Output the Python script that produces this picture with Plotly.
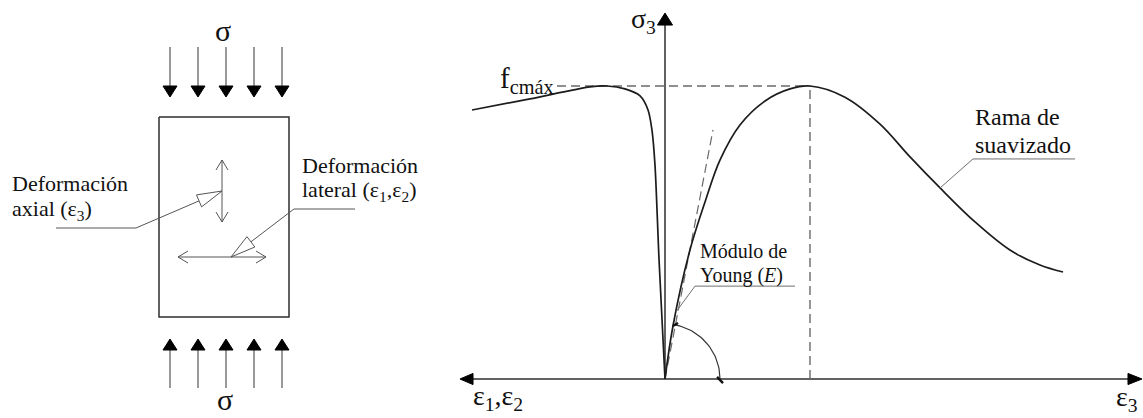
import numpy as np
import plotly.graph_objects as go

# ---------------- stress-strain diagram data (normalised units) ----------------
# strain normalised by strain at peak, stress normalised by f_cmax
axial_strain = [0.0, 0.055, 0.172, 0.276, 0.379, 0.517, 0.690, 0.862, 1.0,
                1.241, 1.483, 1.690, 1.897, 2.138, 2.379, 2.586, 2.745]
axial_stress = [0.0, 0.181, 0.440, 0.604, 0.747, 0.867, 0.949, 0.990, 1.0,
                0.962, 0.870, 0.758, 0.652, 0.536, 0.440, 0.389, 0.365]
lateral_strain = [0.0, -0.041, -0.069, -0.090, -0.117, -0.172, -0.276, -0.400, -0.517, -0.931, -1.331]
lateral_stress = [0.0, 0.406, 0.730, 0.850, 0.918, 0.966, 0.990, 1.0, 0.997, 0.956, 0.918]
young_tangent_strain = [0.0, 0.331]
young_tangent_stress = [0.0, 0.850]
peak_strain = 1.0
peak_stress = 1.0
fc_line_start = -0.745

# axis extents (normalised units)
x2_range = [-4.5862, 3.2966]
y2_range = [-0.1331, 1.2935]
h_axis = [-1.324, 3.193]
v_axis = [0.0, 1.208]

# leader lines
young_leader_x = [0.897, 0.207, 0.076]
young_leader_y = [0.317, 0.317, 0.229]
rama_leader_x = [2.828, 2.124, 1.897]
rama_leader_y = [0.751, 0.751, 0.652]

# angle marker
arc_radius_px = 55
arc_angles_deg = [0, 81]

# ---------------- specimen (left) geometry, pixel units ----------------
box = [159, 117, 289, 317]
load_x = [170, 198, 226, 254, 282]
top_load = [47, 97]      # tail, tip
bottom_load = [388, 339]

CURVE = "#1c1c1c"
AXIS = "#2e2e2e"
LEAD = "#6f6f6f"
DASH = "#6a6a6a"
FONT = "Liberation Serif"

fig = go.Figure()

def line(xs, ys, color, width, axes=("x", "y"), dash=None, shape="linear", smoothing=1.0, fill=None, fillcolor=None):
    fig.add_trace(go.Scatter(
        x=xs, y=ys, mode="lines", xaxis=axes[0], yaxis=axes[1],
        line=dict(color=color, width=width, dash=dash, shape=shape,
                  smoothing=smoothing if shape == "spline" else None),
        fill=fill, fillcolor=fillcolor, hoverinfo="skip", showlegend=False))

# ---------- left: specimen ----------
bx0, by0, bx1, by1 = box
line([bx0, bx1, bx1, bx0, bx0], [by0, by0, by1, by1, by0], AXIS, 1.5)

for lx in load_x:
    # top loads (pointing down)
    line([lx, lx], [top_load[0], top_load[1] - 10], "#555", 1.2)
    line([lx - 7, lx + 7, lx, lx - 7], [top_load[1] - 11, top_load[1] - 11, top_load[1], top_load[1] - 11],
         "black", 1, fill="toself", fillcolor="black")
    # bottom loads (pointing up)
    line([lx, lx], [bottom_load[0], bottom_load[1] + 10], "#555", 1.2)
    line([lx - 7, lx + 7, lx, lx - 7], [bottom_load[1] + 11, bottom_load[1] + 11, bottom_load[1], bottom_load[1] + 11],
         "black", 1, fill="toself", fillcolor="black")

# inner double arrows
vx, vy0, vy1 = 222, 160, 222
line([vx, vx], [vy0, vy1], "#555", 1)
line([vx - 6, vx, vx + 6], [vy0 + 10, vy0, vy0 + 10], "#555", 1)
line([vx - 6, vx, vx + 6], [vy1 - 10, vy1, vy1 - 10], "#555", 1)
hy, hx0, hx1 = 257, 178, 266
line([hx0, hx1], [hy, hy], "#555", 1)
line([hx0 + 10, hx0, hx0 + 10], [hy - 6, hy, hy + 6], "#555", 1)
line([hx1 - 10, hx1, hx1 - 10], [hy - 6, hy, hy + 6], "#555", 1)

def open_head(tip, tail, length=25, half=6.5):
    tx, ty = tip
    dx, dy = tx - tail[0], ty - tail[1]
    n = np.hypot(dx, dy)
    ux, uy = dx / n, dy / n
    bxc, byc = tx - ux * length, ty - uy * length
    px, py = -uy * half, ux * half
    line([tx, bxc + px, bxc - px, tx], [ty, byc + py, byc - py, ty], "#555", 1,
         fill="toself", fillcolor="white")

# leader axial
line([56, 136, 222], [228, 228, 191], "#555", 1)
open_head((222, 191), (136, 228))
# leader lateral
line([355, 294, 231], [209, 209, 257], "#555", 1)
open_head((231, 257), (294, 209))

# ---------- right: stress-strain ----------
R = ("x2", "y2")
# axes
line(h_axis, [0, 0], AXIS, 1.5, R)
line([0, 0], v_axis, AXIS, 1.5, R)
line([3.290, 3.193, 3.193, 3.290], [0, 0.019, -0.019, 0], "black", 1, R, fill="toself", fillcolor="black")
line([-1.414, -1.324, -1.324, -1.414], [0, 0.019, -0.019, 0], "black", 1, R, fill="toself", fillcolor="black")
line([0, -0.052, 0.052, 0], [1.249, 1.208, 1.208, 1.249], "black", 1, R, fill="toself", fillcolor="black")

# dashed reference lines
line([fc_line_start, peak_strain], [peak_stress, peak_stress], DASH, 1.4, R, dash="9px,5px")
line([peak_strain, peak_strain], [0, peak_stress], DASH, 1.4, R, dash="9px,5px")
line(young_tangent_strain, young_tangent_stress, DASH, 1.2, R, dash="9px,5px")

# curves
line(axial_strain, axial_stress, CURVE, 1.7, R, shape="spline", smoothing=1.0)
line(lateral_strain, lateral_stress, CURVE, 1.7, R, shape="spline", smoothing=0.8)

# leaders
line(young_leader_x, young_leader_y, LEAD, 1, R)
line(rama_leader_x, rama_leader_y, LEAD, 1, R)

# angle arc
th = np.radians(np.linspace(arc_angles_deg[0], arc_angles_deg[1], 40))
line(arc_radius_px * np.cos(th) / 145, arc_radius_px * np.sin(th) / 293, "#333", 1.2, R)
line([0.054, 0.090], [0.181, 0.191], "#111", 2.4, R)
line([0.359, 0.400], [0.007, -0.014], "#111", 2.4, R)

# ---------- text ----------
def txt(x, y, s, size, axes=("x", "y"), xanchor="left", yanchor="middle"):
    fig.add_annotation(x=x, y=y, xref=axes[0], yref=axes[1], text=s, showarrow=False,
                       xanchor=xanchor, yanchor=yanchor,
                       font=dict(family=FONT, size=size, color="#111"))

txt(223, 30, "σ", 30, xanchor="center")
txt(225, 418, "σ", 30, xanchor="center", yanchor="bottom")
txt(10, 183, "Deformación", 22)
txt(10, 210, "axial (ε<sub>3</sub>)", 22)
txt(300, 165, "Deformación", 22)
txt(300, 191, "lateral (ε<sub>1</sub>,ε<sub>2</sub>)", 22)

txt(498, 80, "f<sub>cmáx</sub>", 29)
txt(629, 20, "σ<sub>3</sub>", 28)
txt(471, 397, "ε<sub>1</sub>,ε<sub>2</sub>", 28)
txt(1114, 418, "ε<sub>3</sub>", 28, yanchor="bottom")
txt(698, 251, "Módulo de", 20)
txt(698, 275, "Young (<i>E</i>)", 20)
txt(973, 117, "Rama de", 24)
txt(973, 145, "suavizado", 24)

ax_hidden = dict(visible=False, showgrid=False, zeroline=False, fixedrange=True)
fig.update_layout(
    width=1143, height=418,
    margin=dict(l=0, r=0, t=0, b=0),
    paper_bgcolor="white", plot_bgcolor="white",
    showlegend=False,
    xaxis=dict(range=[0, 1143], domain=[0, 1], **ax_hidden),
    yaxis=dict(range=[418, 0], domain=[0, 1], **ax_hidden),
    xaxis2=dict(range=x2_range, overlaying="x", anchor="y2", **ax_hidden),
    yaxis2=dict(range=y2_range, overlaying="y", anchor="x2", **ax_hidden),
)

fig.write_html("out.html", config={"displayModeBar": False},
               post_script="document.body.style.margin='0';")
